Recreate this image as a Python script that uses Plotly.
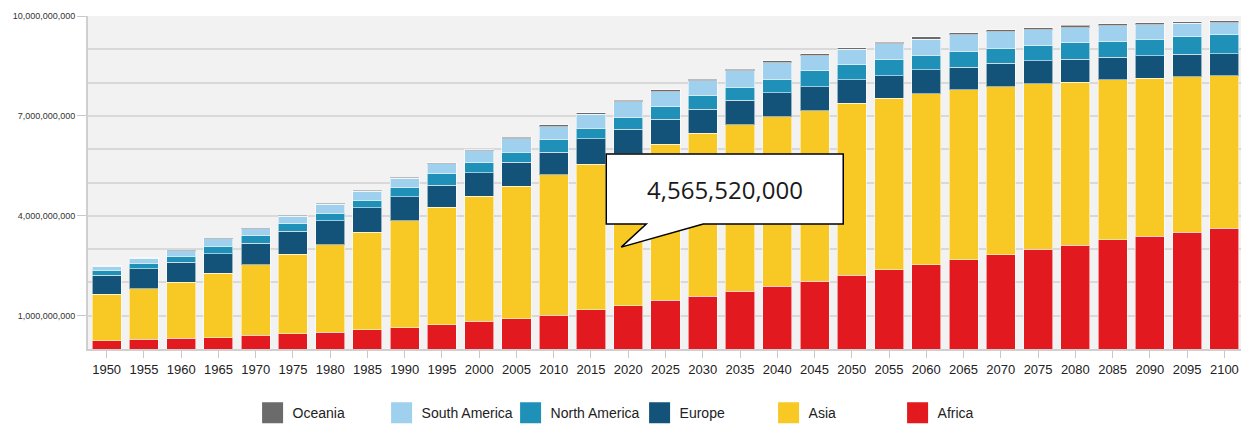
import plotly.graph_objects as go

years = [str(y) for y in range(1950, 2101, 5)]

# population in billions
africa = [0.25, 0.29, 0.32, 0.34, 0.41, 0.46, 0.50, 0.58, 0.645, 0.73, 0.83, 0.915, 1.01, 1.18, 1.30,
          1.46, 1.58, 1.73, 1.88, 2.03, 2.21, 2.38, 2.53, 2.68, 2.83, 3.00, 3.12, 3.28, 3.38, 3.50, 3.62]
asia = [1.40, 1.52, 1.68, 1.93, 2.12, 2.39, 2.63, 2.93, 3.21, 3.52, 3.75, 3.97, 4.22, 4.37, 4.56552,
        4.69, 4.90, 5.00, 5.10, 5.13, 5.17, 5.15, 5.13, 5.10, 5.05, 4.96, 4.89, 4.80, 4.75, 4.68, 4.59]
europe = [0.56, 0.60, 0.61, 0.59, 0.65, 0.69, 0.72, 0.73, 0.72, 0.67, 0.72, 0.73, 0.68, 0.76, 0.74,
          0.75, 0.72, 0.74, 0.72, 0.72, 0.70, 0.67, 0.72, 0.68, 0.70, 0.69, 0.69, 0.68, 0.68, 0.67, 0.66]
north_america = [0.15, 0.17, 0.17, 0.22, 0.22, 0.22, 0.22, 0.22, 0.26, 0.34, 0.30, 0.30, 0.37, 0.32, 0.34,
                 0.38, 0.41, 0.38, 0.38, 0.47, 0.46, 0.48, 0.44, 0.46, 0.45, 0.46, 0.49, 0.47, 0.49, 0.53, 0.56]
south_america = [0.12, 0.15, 0.17, 0.23, 0.21, 0.23, 0.28, 0.28, 0.30, 0.31, 0.35, 0.40, 0.40, 0.42, 0.48,
                 0.45, 0.44, 0.50, 0.52, 0.46, 0.46, 0.48, 0.48, 0.52, 0.50, 0.47, 0.46, 0.48, 0.44, 0.40, 0.37]
oceania = [0.013, 0.014, 0.016, 0.018, 0.019, 0.021, 0.023, 0.025, 0.027, 0.029, 0.031, 0.05, 0.05, 0.05, 0.05,
           0.05, 0.05, 0.05, 0.05, 0.05, 0.05, 0.05, 0.08, 0.06, 0.05, 0.07, 0.07, 0.05, 0.06, 0.05, 0.06]

y_ticks = [1e9, 4e9, 7e9, 1e10]
callout_year = "2020"
callout_tip = 3.06e9
callout_text = "4,565,520,000"

series = [
    ("Africa", africa, "#e2191f"),
    ("Asia", asia, "#f8c824"),
    ("Europe", europe, "#135379"),
    ("North America", north_america, "#1f91b8"),
    ("South America", south_america, "#9fd0ee"),
    ("Oceania", oceania, "#6b6b6b"),
]

fig = go.Figure()
for name, vals, color in series:
    fig.add_trace(go.Bar(
        name=name, x=years, y=[v * 1e9 for v in vals],
        marker=dict(color=color, line=dict(color="rgba(255,255,255,0.55)", width=1)),
        hoverinfo="skip", showlegend=False,
    ))
# legend-only entries (bigger square swatches)
for name, vals, color in series:
    fig.add_trace(go.Scatter(
        name=name, x=[None], y=[None], mode="markers",
        marker=dict(symbol="square", size=16, color=color, line=dict(color=color, width=5)),
        hoverinfo="skip", showlegend=True,
    ))

# the page body adds an 8px offset; compensate in size / margins
fig.update_layout(
    barmode="stack",
    bargap=0.22,
    width=1241, height=417,
    margin=dict(l=80, r=6, t=8, b=75.5, autoexpand=False),
    paper_bgcolor="white",
    plot_bgcolor="#f2f2f2",
    font=dict(family="Liberation Sans, Arial, sans-serif", color="#222"),
    legend=dict(
        orientation="h", traceorder="reversed", itemsizing="trace",
        x=0.1425, xanchor="left", y=-0.193, yanchor="middle",
        entrywidth=84, font=dict(size=14, color="#222"),
        bgcolor="rgba(0,0,0,0)",
    ),
    showlegend=True,
)

fig.update_xaxes(
    type="category", categoryorder="array", categoryarray=years, range=[-0.5, len(years) - 0.5],
    showgrid=False, ticks="outside", ticklen=7, tickcolor="#c8c8c8",
    showline=True, linecolor="#cfcfcf", linewidth=2,
    tickfont=dict(size=13, color="#222"), automargin=False,
)
fig.update_yaxes(
    range=[0, 1e10], tickvals=y_ticks, tickformat=",d",
    ticks="outside", ticklen=9, tickcolor="#c8c8c8",
    showline=True, linecolor="#cfcfcf", linewidth=2,
    showgrid=True, gridcolor="#d9d9d9", gridwidth=1.5,
    minor=dict(dtick=1e9, tick0=0, showgrid=True, gridcolor="#d9d9d9", gridwidth=1.5, ticks=""),
    tickfont=dict(size=9, color="#333"), automargin=False, zeroline=False,
)

# speech-bubble callout
idx = years.index(callout_year)
fig.add_shape(
    type="path", xref="x", yref="y", xsizemode="pixel", ysizemode="pixel",
    xanchor=idx, yanchor=callout_tip,
    path="M-7,0 L18,23 L-22,23 L-22,93 L215,93 L215,23 L75,23 Z",
    fillcolor="white", line=dict(color="black", width=1.5), layer="above",
)
fig.add_annotation(
    x=idx, y=callout_tip, xref="x", yref="y", showarrow=False,
    xshift=96.5, yshift=58, text=callout_text,
    font=dict(family="Open Sans, Noto Sans, sans-serif", size=24, color="#1a1a1a"),
    xanchor="center", yanchor="middle",
)

fig.write_html("out.html")
